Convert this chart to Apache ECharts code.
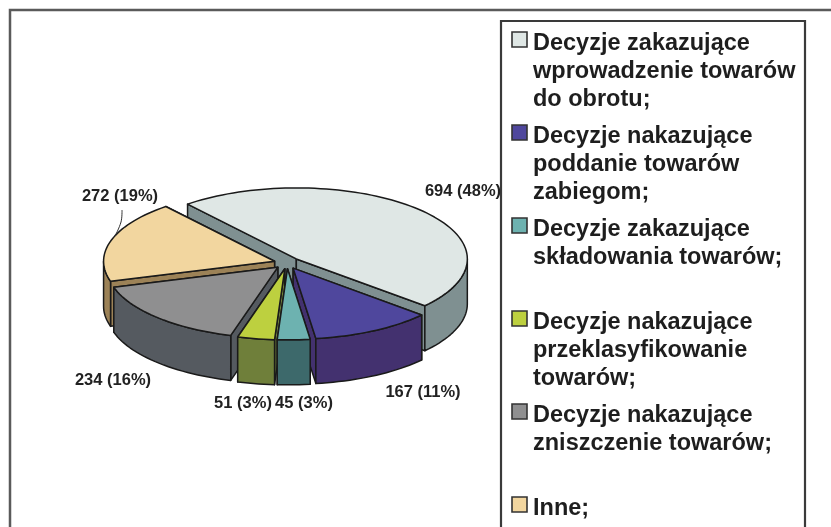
<!DOCTYPE html>
<html>
<head>
<meta charset="utf-8">
<style>html,body{margin:0;padding:0;background:#fff}#c{width:831px;height:527px;filter:blur(0.45px)}</style>
<script src="https://cdn.jsdelivr.net/npm/echarts@6/dist/echarts.min.js"></script>
</head>
<body>
<div id="c"></div>
<script>
const names = [
  'Decyzje zakazujące\nwprowadzenie towarów\ndo obrotu;',
  'Decyzje nakazujące\npoddanie towarów\nzabiegom;',
  'Decyzje zakazujące\nskładowania towarów;',
  'Decyzje nakazujące\nprzeklasyfikowanie\ntowarów;',
  'Decyzje nakazujące\nzniszczenie towarów;',
  'Inne;'
];
const values = [694, 167, 45, 51, 234, 272];
const percents = [48, 11, 3, 3, 16, 19];
const topColors = ['#dfe7e5', '#4f479d', '#6db2b0', '#bdd03f', '#8f8f90', '#f2d69f'];
const sideColors = ['#7f9091', '#43316f', '#3d696b', '#6f7f3a', '#555a60', '#9c8257'];

// layout of the pie
const cx = 287, cy = 263, rx = 171, ry = 71, depth = 45, explode = 13, startDeg = -39.5;
const labelAt = [[463, 191], [423, 392], [304, 403], [243, 403], [113, 380], [120, 196]];
const total = values.reduce((a, b) => a + b, 0);
const spans = [];
values.reduce((acc, v) => { const e = acc + v / total * 360; spans.push([acc, e]); return e; }, startDeg);
const rad = d => d * Math.PI / 180;
const rank = spans.map(s => -Math.cos(rad((s[0] + s[1]) / 2)));
const sorted = rank.slice().sort((a, b) => a - b);

function renderItem(params, api) {
  const i = params.dataIndex;
  const v = api.value(0);
  const a0 = spans[i][0], a1 = a0 + v / total * 360, mid = (a0 + a1) / 2;
  const ax = cx + explode * Math.sin(rad(mid));
  const ay = cy - explode * 0.45 * Math.cos(rad(mid));
  const pt = (deg, dz) => [ax + rx * Math.sin(rad(deg)), ay - ry * Math.cos(rad(deg)) + dz];
  const arc = (from, to, dz) => {
    const n = Math.max(2, Math.ceil(Math.abs(to - from) / 2)), out = [];
    for (let k = 0; k <= n; k++) out.push(pt(from + (to - from) * k / n, dz));
    return out;
  };
  const z = 10 * sorted.indexOf(rank[i]) + 1;
  const line = { stroke: '#1a1a1a', lineWidth: 1.5, lineJoin: 'round' };
  const poly = (points, fill, zz) => ({
    type: 'polygon', z2: zz, shape: { points },
    style: Object.assign({ fill }, line)
  });
  const kids = [];
  const wall = (deg, zz) => poly([[ax, ay], pt(deg, 0), pt(deg, depth), [ax, ay + depth]], sideColors[i], zz);
  // the wall whose outer edge is higher on screen goes behind the other one
  const a0Lower = pt(a0, 0)[1] > pt(a1, 0)[1];
  kids.push(wall(a0, a0Lower ? z + 1 : z), wall(a1, a0Lower ? z : z + 1));
  const vFrom = Math.max(a0, 90), vTo = Math.min(a1, 270);
  if (vTo > vFrom) {
    kids.push(poly(arc(vFrom, vTo, 0).concat(arc(vTo, vFrom, depth)), sideColors[i], z + 2));
  }
  kids.push(poly([[ax, ay]].concat(arc(a0, a1, 0)), topColors[i], z + 3));
  return { type: 'group', children: kids };
}

const font = 'bold 23.5px "Liberation Sans", Arial, sans-serif';
const graphic = [
  { type: 'polyline', z: 1, shape: { points: [[831, 10], [10, 10], [10, 527]] }, style: { stroke: '#5a5a5a', lineWidth: 2.5, fill: null } },
  { type: 'polyline', z: 1, shape: { points: [[501, 527], [501, 21], [805, 21], [805, 527]] }, style: { stroke: '#3a3a3a', lineWidth: 2.2, fill: null } },
  { type: 'polyline', z: 20, shape: { smooth: 0.4, points: [[122, 210], [121, 222], [115, 236]] }, style: { stroke: '#333', lineWidth: 1, fill: null } }
];
names.forEach((n, i) => {
  const top = 32 + 93 * i;
  graphic.push({ type: 'rect', z: 5, shape: { x: 512, y: top, width: 15, height: 15 }, style: { fill: topColors[i], stroke: '#333', lineWidth: 1.6 } });
  graphic.push({ type: 'text', z: 5, x: 533, y: top - 2, style: { text: n, font, fill: '#1e1e1e', lineHeight: 28, verticalAlign: 'top' } });
});
values.forEach((v, i) => {
  graphic.push({ type: 'text', z: 6, x: labelAt[i][0], y: labelAt[i][1], style: {
    text: v + ' (' + percents[i] + '%)', font: 'bold 16.5px "Liberation Sans", Arial, sans-serif', fill: '#222',
    align: 'center', verticalAlign: 'middle' } });
});

const chart = echarts.init(document.getElementById('c'), null, { renderer: 'canvas' });
chart.setOption({
  animation: false,
  backgroundColor: '#fff',
  graphic,
  series: [{
    type: 'custom',
    coordinateSystem: 'none',
    renderItem,
    data: values.map(v => [v]),
    silent: true
  }]
});
</script>
</body>
</html>
